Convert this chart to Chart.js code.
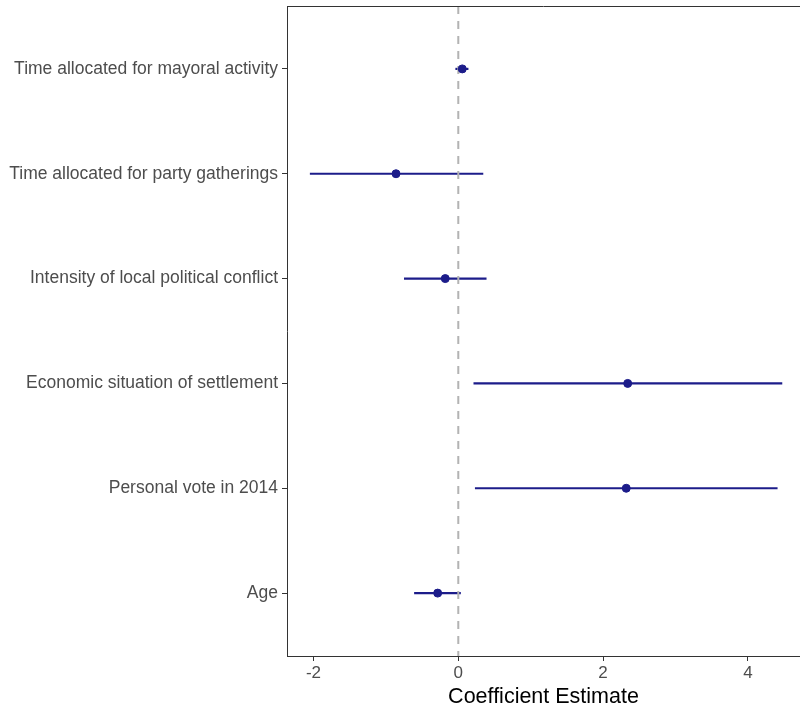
<!DOCTYPE html>
<html>
<head>
<meta charset="utf-8">
<script src="https://cdn.jsdelivr.net/npm/chart.js@4"></script>
<style>
  body { margin: 0; background: #fff; }
  canvas { display: block; }
</style>
</head>
<body>
<canvas id="myChart" width="800" height="710"></canvas>
<script>
// coefficient plot data
const labels = [
    "Time allocated for mayoral activity",
    "Time allocated for party gatherings",
    "Intensity of local political conflict",
    "Economic situation of settlement",
    "Personal vote in 2014",
    "Age"
];
const estimates = [0.055, -0.86, -0.18, 2.34, 2.32, -0.285];
const lower = [-0.04, -2.05, -0.75, 0.21, 0.23, -0.61];
const upper = [0.14, 0.345, 0.39, 4.475, 4.41, 0.035];
const xTicks = [-2, 0, 2, 4];

const NAVY = "#1c1c8a";
const FONT = "'Liberation Sans', Arial, sans-serif";

// one short line per row for the confidence interval
const ciSets = labels.map(function (lab, i) {
    return {
        type: "scatter",
        label: lab,
        data: [{x: lower[i], y: i}, {x: upper[i], y: i}],
        showLine: true,
        borderColor: NAVY,
        borderWidth: 2.2,
        pointRadius: 0,
        order: 2
    };
});

const zeroLine = {
    type: "scatter",
    label: "zero",
    data: [{x: 0, y: -0.6}, {x: 0, y: labels.length - 0.4}],
    showLine: true,
    borderColor: "#b3b3b3",
    borderWidth: 2,
    borderDash: [8, 7],
    pointRadius: 0,
    order: 1
};

const pointSet = {
    type: "scatter",
    label: "estimate",
    data: estimates.map(function (v, i) { return {x: v, y: i}; }),
    backgroundColor: NAVY,
    borderColor: NAVY,
    pointRadius: 4,
    order: 0
};

// top edge of the panel (the right edge falls outside the picture)
const panelTop = {
    id: "panelTop",
    afterDraw(chart) {
        const a = chart.chartArea;
        const ctx = chart.ctx;
        ctx.save();
        ctx.strokeStyle = "#333";
        ctx.lineWidth = 1;
        ctx.beginPath();
        ctx.moveTo(a.left, a.top + 0.5);
        ctx.lineTo(a.right, a.top + 0.5);
        ctx.stroke();
        ctx.restore();
    }
};

const ctx = document.getElementById("myChart").getContext("2d");
const myChart = new Chart(ctx, {
    type: "scatter",
    data: { datasets: ciSets.concat([zeroLine, pointSet]) },
    plugins: [panelTop],
    options: {
        responsive: false,
        animation: false,
        layout: { autoPadding: false, padding: { top: 6, right: 0, bottom: 0, left: 0 } },
        plugins: { legend: { display: false }, tooltip: { enabled: false } },
        scales: {
            x: {
                type: "linear",
                min: -2.366,
                max: 4.72,
                afterBuildTicks(scale) {
                    scale.ticks = xTicks.map(function (v) { return {value: v}; });
                },
                afterFit(scale) {
                    scale.height = 54;
                    scale.paddingLeft = 0;
                    scale.paddingRight = 0;
                },
                grid: { drawOnChartArea: false, tickLength: 5, color: "#333" },
                border: { display: true, color: "#333" },
                ticks: { color: "#4d4d4d", font: { family: FONT, size: 17 }, padding: 2 },
                title: {
                    display: true,
                    text: "Coefficient Estimate",
                    color: "#000",
                    font: { family: FONT, size: 21.5 },
                    padding: { top: 0, bottom: 0 }
                }
            },
            y: {
                type: "linear",
                reverse: true,
                min: -0.6,
                max: labels.length - 0.4,
                afterBuildTicks(scale) {
                    scale.ticks = labels.map(function (l, i) { return {value: i}; });
                },
                afterFit(scale) {
                    scale.width = 287;
                    scale.paddingTop = 0;
                    scale.paddingBottom = 0;
                },
                grid: { drawOnChartArea: false, tickLength: 5, color: "#333" },
                border: { display: true, color: "#333" },
                ticks: {
                    color: "#4d4d4d",
                    font: { family: FONT, size: 17.5 },
                    padding: 4,
                    callback: function (v) { return labels[v]; }
                }
            }
        }
    }
});
</script>
</body>
</html>
